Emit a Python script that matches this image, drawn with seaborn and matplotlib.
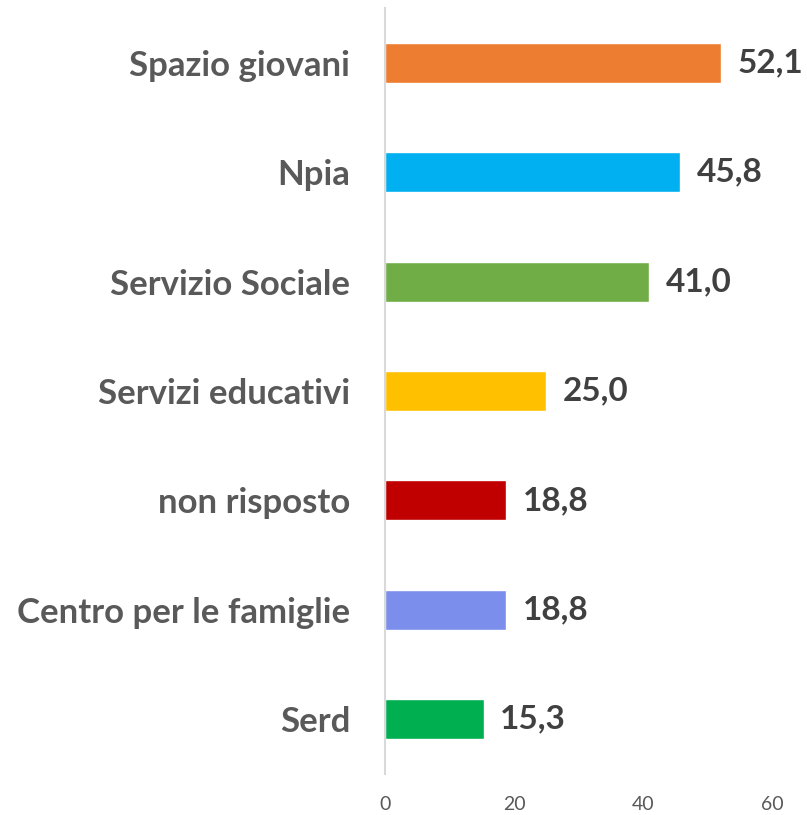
import matplotlib
matplotlib.use("Agg")
import matplotlib.pyplot as plt
import seaborn as sns
import pandas as pd

categories = ["Spazio giovani", "Npia", "Servizio Sociale", "Servizi educativi",
              "non risposto", "Centro per le famiglie", "Serd"]
values = [52.1, 45.8, 41.0, 25.0, 18.8, 18.8, 15.3]
colors = ["#ED7D31", "#00B0F0", "#70AD47", "#FFC000", "#C00000", "#7B8EEB", "#00B050"]
ticks = [0, 20, 40, 60]

sns.set_style("white")
plt.rcParams["font.family"] = ["Lato", "DejaVu Sans"]

df = pd.DataFrame({"cat": categories, "val": values})

fig = plt.figure(figsize=(8.07, 8.15), dpi=100)
ax = fig.add_axes([385 / 807, 1 - 774 / 815, (772 - 385) / 807, (774 - 8) / 815])

sns.barplot(data=df, x="val", y="cat", hue="cat", palette=colors, legend=False,
            width=0.366, ax=ax, saturation=1)

ax.set_xlim(0, 60)
ax.set_xticks(ticks)
ax.set_xticklabels([str(t) for t in ticks])
ax.set_xlabel("")
ax.set_ylabel("")
for s in ["top", "right", "bottom"]:
    ax.spines[s].set_visible(False)
ax.spines["left"].set_color("#D9D9D9")
ax.spines["left"].set_linewidth(1.5)
ax.tick_params(axis="x", length=0, pad=16, labelsize=14, labelcolor="#595959")
ax.tick_params(axis="y", length=0, pad=25)
for lbl in ax.get_yticklabels():
    lbl.set_fontsize(25)
    lbl.set_fontweight("bold")
    lbl.set_color("#595959")

for cont in ax.containers:
    ax.bar_label(cont, labels=[f"{v:.1f}".replace(".", ",") for v in cont.datavalues],
                 padding=12, fontsize=24, fontweight="bold", color="#404040")

fig.savefig("out.png", dpi=100)
